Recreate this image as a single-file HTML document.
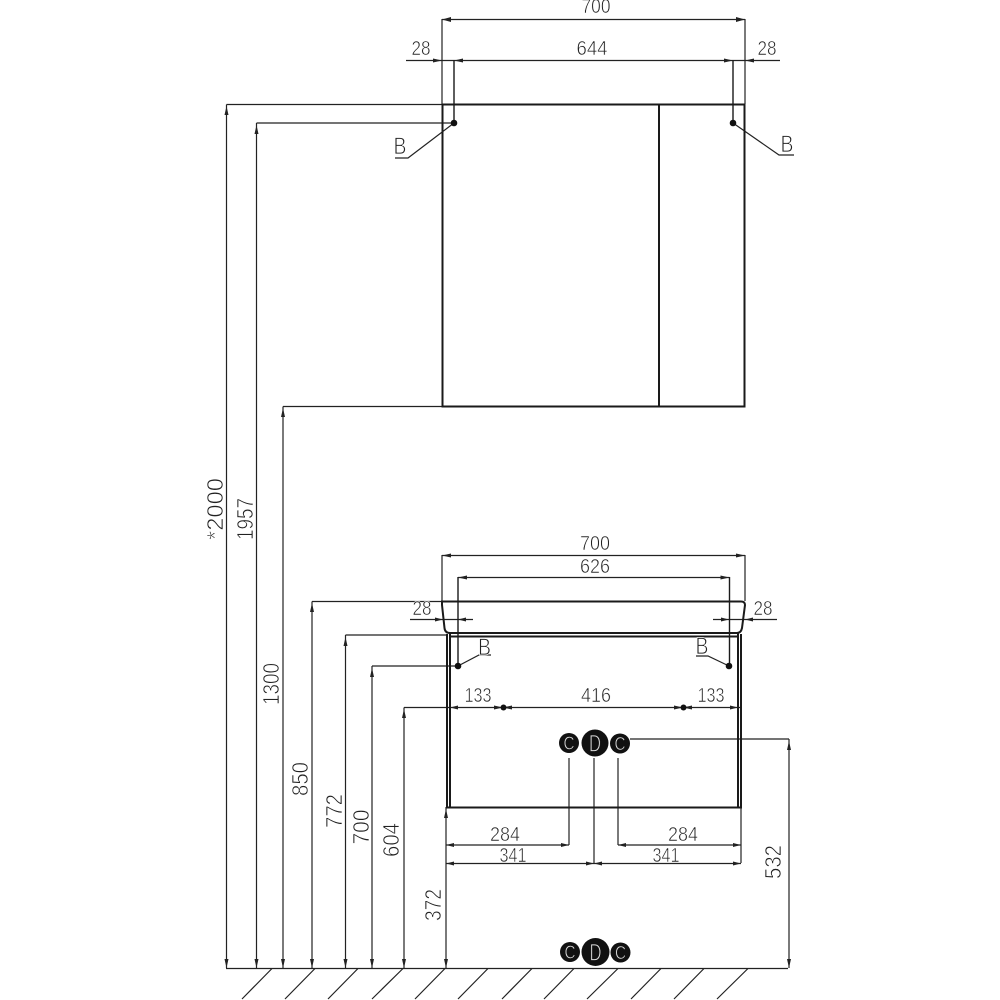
<!DOCTYPE html>
<html>
<head>
<meta charset="utf-8">
<style>
html,body{margin:0;padding:0;background:#fff;width:1000px;height:1000px;overflow:hidden}
svg{display:block}
text{font-family:"Liberation Sans",sans-serif;font-size:20px;fill:#222;stroke:#fff;stroke-width:.55px;text-anchor:middle}
.r{font-size:23px;stroke-width:.65px}
.b{font-size:24px;stroke-width:.8px}
.c{font-size:18px;fill:#ddd;stroke:#111;stroke-width:.6px}
.d{font-size:24px;fill:#ddd;stroke:#111;stroke-width:.8px}
</style>
</head>
<body>
<svg width="1000" height="1000" viewBox="0 0 1000 1000" xmlns="http://www.w3.org/2000/svg">
<rect width="1000" height="1000" fill="#fff" stroke="none"/>
<!-- thin dimension lines -->
<g fill="none" stroke="#222" stroke-width="1.2">
  <path d="M442 19.500H745M442 19V104M745 19V104"/>
  <path d="M406 60.500H780"/>
  <path d="M226.500 104.500H442M226.500 104.500V968"/>
  <path d="M256.500 123H452M256.500 123V968"/>
  <path d="M283 406.500H442M283 406.500V968"/>
  <path d="M312 601.500H442M312 601.500V968"/>
  <path d="M345.500 635H446M345.500 635V968"/>
  <path d="M372 666H456M372 666V968"/>
  <path d="M404 707.500H741M404 707.500V968"/>
  <path d="M446 807V968"/>
  <path d="M741 807V863"/>
  <path d="M789 739H630M789 739V968"/>
  <path d="M442 555.500H745M442 555V601M745 555V601"/>
  <path d="M458 577.500H729.500"/>
  <path d="M410 619.500H473M713 619.500H777"/>
  <path d="M446 845H569M618 845H741"/>
  <path d="M446 863.500H741"/>
  <path d="M569 758V845M594 758V863M618 758V845"/>
  <path d="M226 968.500H788"/>
  <path d="M272 968.500L242 999M315 968.500L285 999M358 968.500L328 999M403 968.500L372 999M445 968.500L415 999M488 968.500L458 999M532 968.500L502 999M574 968.500L544 999M618 968.500L587 999M661 968.500L631 999M704 968.500L674 999M748 968.500L717 999"/>
  <path d="M454 123L408 158H395M733 123L779 155H794"/>
  <path d="M458 666L479 655H491M729 666L708 656H696"/>
</g>
<!-- medium vertical lines -->
<g fill="none" stroke="#1a1a1a" stroke-width="1.4">
  <path d="M454 60V122M733 60V122"/>
  <path d="M458 577V666M729.500 577V666"/>
</g>
<!-- objects -->
<g fill="none" stroke="#1a1a1a" stroke-width="2">
  <rect x="442.500" y="104.500" width="302" height="302"/>
  <path d="M659 104V406"/>
  <path d="M442 601.500H741Q745 601.500 745 605L742 628Q741 633 737 633H450Q445 633 444.500 628L442 605Z"/>
  <path d="M447 634V807.500H741V634"/>
  <path d="M450 633V807M738 633V807"/>
  <path d="M450 636.500H738"/>
</g>
<!-- arrowheads -->
<g fill="#222">
  <path d="M442 19.500l9 -2.500v5zM745 19.500l-9 -2.500v5z"/>
  <path d="M442 60.500l-9 -2v4zM454 60.500l9 -2v4zM733 60.500l-9 -2v4zM745 60.500l9 -2v4z"/>
  <path d="M226.500 106l-2 9h4zM256.500 125l-2 9h4zM283 408l-2 9h4zM312 603l-2 9h4zM345.500 637l-2 9h4zM372 668l-2 9h4zM404 709l-2 9h4zM446 809l-2 9h4zM789 741l-2 9h4z"/>
  <path d="M226.500 968l-2 -9h4zM256.500 968l-2 -9h4zM283 968l-2 -9h4zM312 968l-2 -9h4zM345.500 968l-2 -9h4zM372 968l-2 -9h4zM404 968l-2 -9h4zM446 968l-2 -9h4zM789 968l-2 -9h4z"/>
  <path d="M442 555.500l9 -2v4zM745 555.500l-9 -2v4zM458 577.500l9 -2v4zM729.500 577.500l-9 -2v4z"/>
  <path d="M443 619.500l-8 -2v4zM458 619.500l8 -2v4zM729 619.500l-8 -2v4zM745 619.500l8 -2v4z"/>
  <path d="M450 707.500l8 -2v4zM503 707.500l-9 -2v4zM503 707.500l9 -2v4zM683 707.500l-9 -2v4zM683 707.500l9 -2v4zM738 707.500l-8 -2v4z"/>
  <path d="M446 845l8 -2v4zM569 845l-8 -2v4zM618 845l8 -2v4zM741 845l-8 -2v4z"/>
  <path d="M446 863.500l8 -2v4zM594 863.500l-8 -2v4zM594 863.500l8 -2v4zM741 863.500l-8 -2v4z"/>
</g>
<!-- dots -->
<g fill="#111">
  <circle cx="454" cy="123" r="3.300"/>
  <circle cx="733" cy="123" r="3.300"/>
  <circle cx="458" cy="666" r="3.300"/>
  <circle cx="729" cy="666" r="3.300"/>
  <circle cx="503.500" cy="707.500" r="3"/>
  <circle cx="683.500" cy="707.500" r="3"/>
  <circle cx="569" cy="743" r="10"/>
  <circle cx="595" cy="743" r="13.500"/>
  <circle cx="620" cy="743.500" r="10"/>
  <circle cx="570" cy="952" r="10"/>
  <circle cx="595.500" cy="952" r="14"/>
  <circle cx="620.500" cy="952.500" r="10"/>
</g>
<!-- circle letters -->
<text class="c" x="569" y="749.500" textLength="11" lengthAdjust="spacingAndGlyphs">C</text>
<text class="d" x="595" y="751.500" textLength="12" lengthAdjust="spacingAndGlyphs">D</text>
<text class="c" x="620" y="750" textLength="11" lengthAdjust="spacingAndGlyphs">C</text>
<text class="c" x="570" y="958.500" textLength="11" lengthAdjust="spacingAndGlyphs">C</text>
<text class="d" x="595.500" y="960.500" textLength="12" lengthAdjust="spacingAndGlyphs">D</text>
<text class="c" x="620.500" y="959" textLength="11" lengthAdjust="spacingAndGlyphs">C</text>
<!-- horizontal labels -->
<text x="596" y="13" textLength="29" lengthAdjust="spacingAndGlyphs">700</text>
<text x="421" y="55" textLength="19" lengthAdjust="spacingAndGlyphs">28</text>
<text x="592" y="55" textLength="31" lengthAdjust="spacingAndGlyphs">644</text>
<text x="767" y="55" textLength="19" lengthAdjust="spacingAndGlyphs">28</text>
<text class="b" x="400" y="154" textLength="13" lengthAdjust="spacingAndGlyphs">B</text>
<text class="b" x="787" y="152" textLength="13" lengthAdjust="spacingAndGlyphs">B</text>
<text x="595" y="550" textLength="30" lengthAdjust="spacingAndGlyphs">700</text>
<text x="595" y="573" textLength="30" lengthAdjust="spacingAndGlyphs">626</text>
<text x="422" y="615" textLength="19" lengthAdjust="spacingAndGlyphs">28</text>
<text x="763" y="615" textLength="19" lengthAdjust="spacingAndGlyphs">28</text>
<text class="b" x="484.500" y="655" textLength="13" lengthAdjust="spacingAndGlyphs">B</text>
<text class="b" x="702" y="654" textLength="13" lengthAdjust="spacingAndGlyphs">B</text>
<text x="478" y="702" textLength="27" lengthAdjust="spacingAndGlyphs">133</text>
<text x="596" y="702" textLength="30" lengthAdjust="spacingAndGlyphs">416</text>
<text x="711" y="702" textLength="27" lengthAdjust="spacingAndGlyphs">133</text>
<text x="505" y="841" textLength="30" lengthAdjust="spacingAndGlyphs">284</text>
<text x="683" y="841" textLength="30" lengthAdjust="spacingAndGlyphs">284</text>
<text x="513" y="862" textLength="27" lengthAdjust="spacingAndGlyphs">341</text>
<text x="666" y="862" textLength="27" lengthAdjust="spacingAndGlyphs">341</text>
<!-- rotated labels -->
<text class="r" transform="translate(223 509) rotate(-90)" textLength="62" lengthAdjust="spacingAndGlyphs">*2000</text>
<text class="r" transform="translate(253 519) rotate(-90)" textLength="42" lengthAdjust="spacingAndGlyphs">1957</text>
<text class="r" transform="translate(279 684) rotate(-90)" textLength="42" lengthAdjust="spacingAndGlyphs">1300</text>
<text class="r" transform="translate(308 779) rotate(-90)" textLength="34" lengthAdjust="spacingAndGlyphs">850</text>
<text class="r" transform="translate(342 811) rotate(-90)" textLength="34" lengthAdjust="spacingAndGlyphs">772</text>
<text class="r" transform="translate(369 827) rotate(-90)" textLength="35" lengthAdjust="spacingAndGlyphs">700</text>
<text class="r" transform="translate(399 840) rotate(-90)" textLength="34" lengthAdjust="spacingAndGlyphs">604</text>
<text class="r" transform="translate(441 905) rotate(-90)" textLength="32" lengthAdjust="spacingAndGlyphs">372</text>
<text class="r" transform="translate(781 862) rotate(-90)" textLength="34" lengthAdjust="spacingAndGlyphs">532</text>
</svg>
</body>
</html>
